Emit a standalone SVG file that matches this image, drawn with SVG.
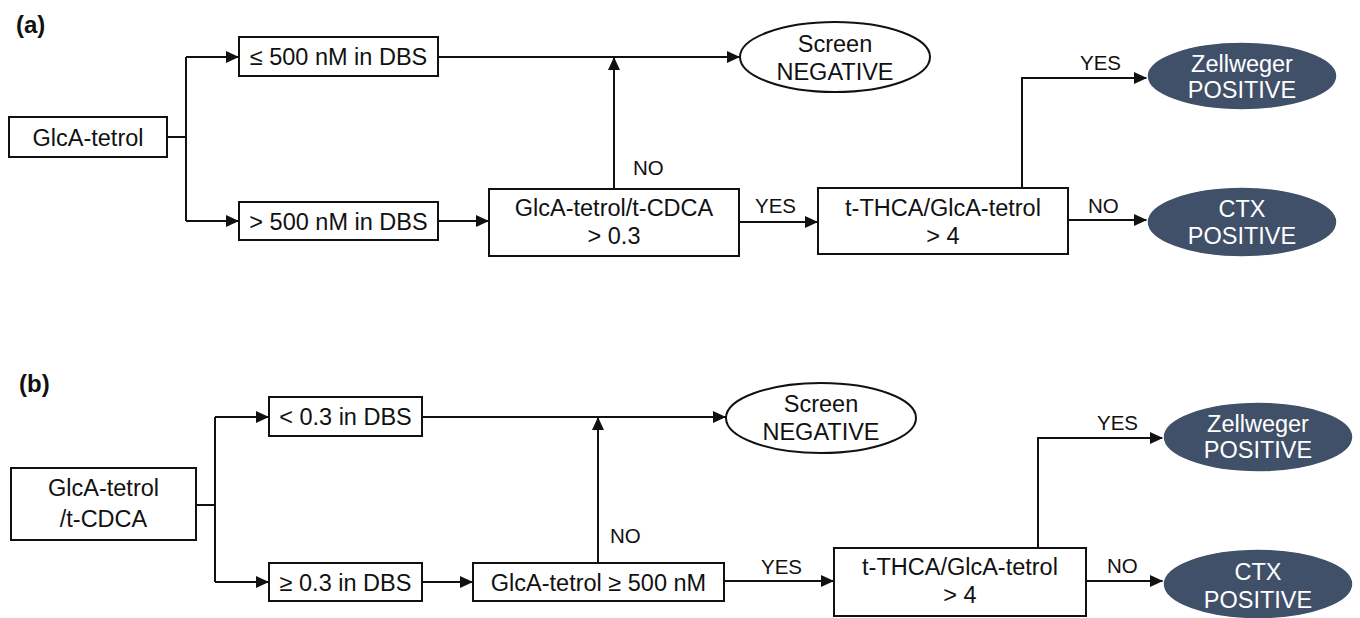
<svg xmlns="http://www.w3.org/2000/svg" width="1360" height="618" viewBox="0 0 1360 618">
<style>
.box{fill:#fff;stroke:#111;stroke-width:2}
.neg{fill:#fff;stroke:#111;stroke-width:2}
.pos{fill:#405068;stroke:#fff;stroke-width:1.5}
.t{font-family:"Liberation Sans",Arial,sans-serif;font-size:23.5px;fill:#111;text-anchor:middle}
.tw{font-family:"Liberation Sans",Arial,sans-serif;font-size:23.5px;fill:#fff;text-anchor:middle}
.lbl{font-family:"Liberation Sans",Arial,sans-serif;font-size:20.5px;fill:#111}
.panel{font-family:"Liberation Sans",Arial,sans-serif;font-size:24px;font-weight:bold;fill:#111}
.c{fill:none;stroke:#111;stroke-width:2}
.ca{fill:none;stroke:#111;stroke-width:2;marker-end:url(#ah)}
</style>
<defs>
<marker id="ah" markerUnits="userSpaceOnUse" markerWidth="13" markerHeight="12" refX="13" refY="6" orient="auto">
<path d="M0,0 L13,6 L0,12 z" fill="#111"/>
</marker>
</defs>
<rect width="1360" height="618" fill="#fff"/>

<text class="panel" x="16" y="33">(a)</text>
<text class="panel" x="19" y="392">(b)</text>

<g id="connectors">
<!-- panel a -->
<path class="c" d="M167,137 H186 M186,57 V221"/>
<path class="ca" d="M186,57 H239"/>
<path class="ca" d="M186,221 H239"/>
<path class="ca" d="M438,57 H740"/>
<path class="ca" d="M614,189 V57"/>
<path class="ca" d="M438,221 H489"/>
<path class="ca" d="M739,222 H818"/>
<path class="ca" d="M1022,188 V78 H1147"/>
<path class="ca" d="M1068,220 H1147"/>
<text class="lbl" x="633" y="175">NO</text>
<text class="lbl" x="755" y="213">YES</text>
<text class="lbl" x="1080" y="70">YES</text>
<text class="lbl" x="1088" y="213">NO</text>
<!-- panel b -->
<path class="c" d="M196,505 H215 M215,417 V582"/>
<path class="ca" d="M215,417 H269"/>
<path class="ca" d="M215,582 H269"/>
<path class="ca" d="M422,417 H726"/>
<path class="ca" d="M598,563 V417"/>
<path class="ca" d="M422,582 H473"/>
<path class="ca" d="M724,581 H834"/>
<path class="ca" d="M1038,548 V438 H1163"/>
<path class="ca" d="M1086,581 H1163"/>
<text class="lbl" x="610" y="543">NO</text>
<text class="lbl" x="761" y="574">YES</text>
<text class="lbl" x="1097" y="430">YES</text>
<text class="lbl" x="1107" y="573">NO</text>
</g>

<!-- panel a nodes -->
<g id="a-start">
<rect class="box" x="9" y="117" width="158" height="40"/>
<text class="t" x="88" y="145.5">GlcA-tetrol</text>
</g>
<g id="a-low">
<rect class="box" x="239" y="37" width="199" height="39"/>
<text class="t" x="338.5" y="65">≤ 500 nM in DBS</text>
</g>
<g id="a-high">
<rect class="box" x="239" y="202" width="199" height="38"/>
<text class="t" x="338.5" y="229.5">&gt; 500 nM in DBS</text>
</g>
<g id="a-negative">
<ellipse class="neg" cx="835" cy="57" rx="95" ry="35"/>
<text class="t" x="835" y="52">Screen</text>
<text class="t" x="835" y="80">NEGATIVE</text>
</g>
<g id="a-ratio">
<rect class="box" x="489" y="189" width="250" height="67"/>
<text class="t" x="614" y="216">GlcA-tetrol/t-CDCA</text>
<text class="t" x="614" y="244">&gt; 0.3</text>
</g>
<g id="a-thca">
<rect class="box" x="818" y="188" width="250" height="66"/>
<text class="t" x="943" y="216">t-THCA/GlcA-tetrol</text>
<text class="t" x="943" y="244">&gt; 4</text>
</g>
<g id="a-zellweger">
<ellipse class="pos" cx="1242" cy="76" rx="95" ry="34"/>
<text class="tw" x="1242" y="72">Zellweger</text>
<text class="tw" x="1242" y="98">POSITIVE</text>
</g>
<g id="a-ctx">
<ellipse class="pos" cx="1242" cy="222" rx="95" ry="35"/>
<text class="tw" x="1242" y="217">CTX</text>
<text class="tw" x="1242" y="244">POSITIVE</text>
</g>

<!-- panel b nodes -->
<g id="b-start">
<rect class="box" x="11" y="468" width="185" height="72"/>
<text class="t" x="103.5" y="496">GlcA-tetrol</text>
<text class="t" x="103.5" y="527">/t-CDCA</text>
</g>
<g id="b-low">
<rect class="box" x="269" y="397" width="153" height="39"/>
<text class="t" x="345.5" y="425">&lt; 0.3 in DBS</text>
</g>
<g id="b-high">
<rect class="box" x="269" y="563" width="153" height="38"/>
<text class="t" x="345.5" y="590.5">≥ 0.3 in DBS</text>
</g>
<g id="b-negative">
<ellipse class="neg" cx="821" cy="418" rx="95" ry="35"/>
<text class="t" x="821" y="412">Screen</text>
<text class="t" x="821" y="440">NEGATIVE</text>
</g>
<g id="b-glca">
<rect class="box" x="473" y="563" width="251" height="38"/>
<text class="t" x="598.5" y="590.5">GlcA-tetrol ≥ 500 nM</text>
</g>
<g id="b-thca">
<rect class="box" x="834" y="548" width="252" height="68"/>
<text class="t" x="960" y="575">t-THCA/GlcA-tetrol</text>
<text class="t" x="960" y="603">&gt; 4</text>
</g>
<g id="b-zellweger">
<ellipse class="pos" cx="1258" cy="437" rx="95" ry="35"/>
<text class="tw" x="1258" y="432">Zellweger</text>
<text class="tw" x="1258" y="458">POSITIVE</text>
</g>
<g id="b-ctx">
<ellipse class="pos" cx="1258" cy="584" rx="95" ry="35"/>
<text class="tw" x="1258" y="580">CTX</text>
<text class="tw" x="1258" y="608">POSITIVE</text>
</g>
</svg>
